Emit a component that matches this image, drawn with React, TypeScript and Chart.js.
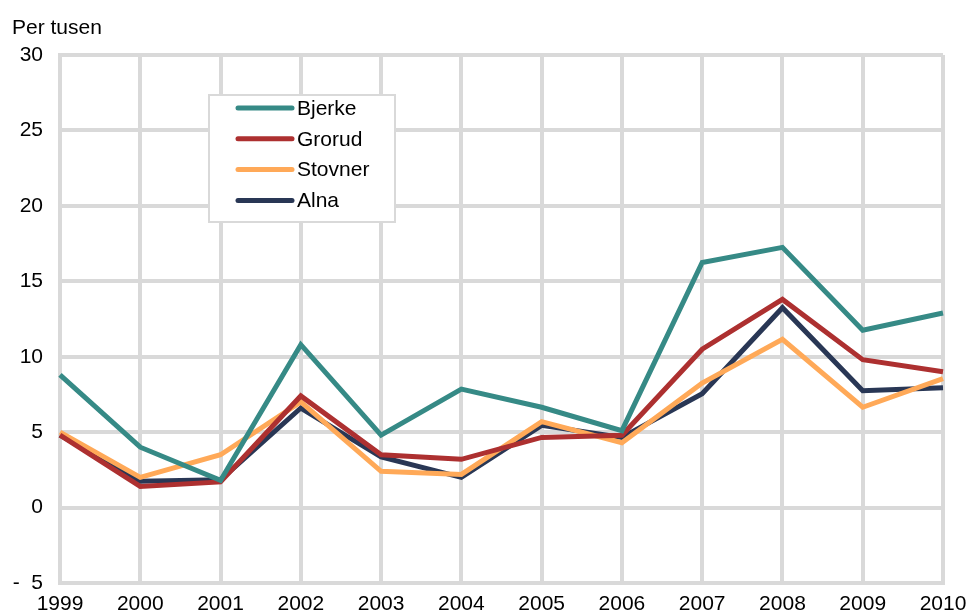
import React, { useEffect, useRef } from "react";
import { Chart, registerables } from "chart.js";

Chart.register(...registerables);

const years = ["1999", "2000", "2001", "2002", "2003", "2004", "2005", "2006", "2007", "2008", "2009", "2010"];
const bjerke = [8.8, 4.0, 1.8, 10.8, 4.8, 7.85, 6.65, 5.1, 16.25, 17.25, 11.75, 12.9];
const grorud = [4.8, 1.4, 1.7, 7.4, 3.5, 3.2, 4.65, 4.8, 10.5, 13.8, 9.8, 9.0];
const stovner = [5.0, 2.0, 3.5, 7.0, 2.4, 2.2, 5.7, 4.3, 8.25, 11.15, 6.65, 8.55];
const alna = [4.8, 1.75, 1.85, 6.6, 3.35, 2.0, 5.45, 4.65, 7.55, 13.25, 7.75, 7.95];
const seriesNames = ["Bjerke", "Grorud", "Stovner", "Alna"];
const seriesColors = ["#368a86", "#ad3030", "#ffa958", "#293755"];
const yTicks = [-5, 0, 5, 10, 15, 20, 25, 30];

const FONT = "'Liberation Sans', Arial, sans-serif";
const GRID = "#d9d9d9";

const legendPlugin = {
  id: "boxLegend",
  afterDraw(chart: any) {
    const ctx = chart.ctx;
    ctx.save();
    const bx = 209, by = 95, bw = 186, bh = 127;
    ctx.fillStyle = "#ffffff";
    ctx.fillRect(bx, by, bw, bh);
    ctx.strokeStyle = GRID;
    ctx.lineWidth = 2;
    ctx.strokeRect(bx, by, bw, bh);
    ctx.font = `21px ${FONT}`;
    ctx.textBaseline = "middle";
    ctx.textAlign = "left";
    seriesNames.forEach((n, i) => {
      const y = 108 + i * 30.8;
      ctx.strokeStyle = seriesColors[i];
      ctx.lineWidth = 5;
      ctx.lineCap = "round";
      ctx.beginPath();
      ctx.moveTo(238, y);
      ctx.lineTo(292, y);
      ctx.stroke();
      ctx.fillStyle = "#000000";
      ctx.fillText(n, 297, y + 1);
    });
    ctx.textBaseline = "alphabetic";
    ctx.fillText("Per tusen", 12, 34);
    ctx.restore();
  },
};

export default function App() {
  const ref = useRef<HTMLCanvasElement>(null);
  useEffect(() => {
    if (!ref.current) return;
    const data = [bjerke, grorud, stovner, alna];
    const chart = new Chart(ref.current, {
      type: "line",
      data: {
        labels: years,
        datasets: seriesNames.map((n, i) => ({
          label: n,
          data: data[i],
          borderColor: seriesColors[i],
          backgroundColor: seriesColors[i],
          borderWidth: 5,
          pointRadius: 0,
          tension: 0,
          fill: false,
        })),
      },
      options: {
        animation: false,
        responsive: false,
        maintainAspectRatio: false,
        layout: { padding: { top: 55, right: 24, left: 0, bottom: 0 } },
        plugins: { legend: { display: false }, tooltip: { enabled: false }, title: { display: false } },
        scales: {
          x: {
            offset: false,
            grid: { color: GRID, lineWidth: 4, drawTicks: false },
            border: { color: GRID, width: 4 },
            ticks: { color: "#000", font: { family: FONT, size: 21 }, padding: 9, maxRotation: 0, autoSkip: false },
            afterFit: (s: any) => { s.height = 32; s.paddingRight = 0; s.paddingLeft = 0; },
          },
          y: {
            min: -5,
            max: 30,
            afterBuildTicks: (s: any) => { s.ticks = yTicks.map((v) => ({ value: v })); },
            grid: { color: GRID, lineWidth: 4, drawTicks: false },
            border: { color: GRID, width: 4 },
            ticks: {
              color: "#000",
              font: { family: FONT, size: 21 },
              padding: 17,
              callback: (v: any) => (Number(v) < 0 ? "-  " + Math.abs(Number(v)) : String(v)),
            },
            afterFit: (s: any) => { s.width = 60; s.paddingTop = 0; s.paddingBottom = 0; },
          },
        },
      },
      plugins: [legendPlugin],
    });
    return () => chart.destroy();
  }, []);
  return (
    <div style={{ position: "fixed", left: 0, top: 0, width: 967, height: 615, background: "#fff" }}>
      <canvas ref={ref} width={967} height={615} style={{ display: "block", width: 967, height: 615 }} />
    </div>
  );
}
